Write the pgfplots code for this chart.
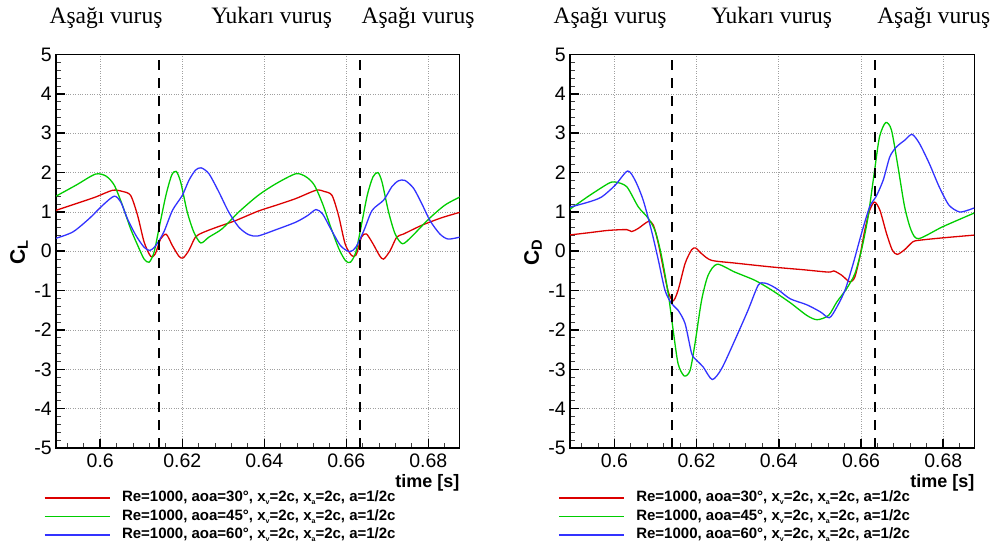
\documentclass[border=0pt]{standalone}
\usepackage{fontspec}
\setmainfont{Liberation Sans}
\newfontfamily\serifT{Liberation Serif}
\usepackage{pgfplots}
\pgfplotsset{compat=1.18}
\definecolor{cred}{RGB}{220,0,0}
\definecolor{cgreen}{RGB}{0,205,0}
\definecolor{cblue}{RGB}{50,50,255}
\newcommand\sub[1]{\raisebox{-3pt}{\fontsize{7}{7}\selectfont #1}}
\pgfplotsset{
 curve/.style={line width=1.3pt, smooth, tension=0.45},
 vdash/.style={black, line width=2.1pt, dash pattern=on 10pt off 8pt, forget plot},
 myax/.style={
  scale only axis, height=393.5pt,
  xmin=0.5892, xmax=0.6876, ymin=-5, ymax=5,
  xtick={0.6,0.62,0.64,0.66,0.68}, xticklabels={0.6,0.62,0.64,0.66,0.68},
  minor xtick={0.592,0.596,0.604,0.608,0.612,0.616,0.624,0.628,0.632,0.636,0.644,0.648,0.652,0.656,0.664,0.668,0.672,0.676,0.684},
  ytick={-5,-4,-3,-2,-1,0,1,2,3,4,5}, yticklabels={-5,-4,-3,-2,-1,0,1,2,3,4,5},
  minor y tick num=4,
  tick pos=left, tick align=inside,
  major tick length=9pt, minor tick length=5pt,
  every major tick/.append style={line width=1.6pt, black},
  every minor tick/.append style={line width=0.9pt, black!75},
  axis line style={line width=1.8pt},
  grid=major, major grid style={dotted, gray!75, line width=0.7pt},
  tick label style={font=\fontsize{19.5}{19.5}\selectfont},
  xticklabel style={inner sep=0pt, anchor=north, yshift=-6pt},
  yticklabel style={inner sep=0pt, anchor=east, xshift=-4pt},
  legend cell align=left,
  legend image code/.code={\draw[##1] (0pt,0pt) -- (65pt,0pt);},
  legend style={draw=none, fill=none, inner sep=0pt, outer sep=0pt,
    font=\bfseries\fontsize{15}{15}\selectfont, row sep=4pt,
    nodes={inner sep=0pt, text height=11pt, text depth=3.5pt},
    /tikz/every odd column/.append style={column sep=11.7pt}},
 }
}
\begin{document}
\begin{tikzpicture}
\useasboundingbox (0,0) rectangle (995pt,547pt);
% ---------------- left: C_L
\begin{axis}[myax, width=403.5pt, at={(56pt,99pt)}, anchor=south west,
  legend style={at={(-0.0297,-0.1085)}, anchor=north west}]
\addplot[curve, cred] coordinates {(0.5892,1.04)(0.5941,1.21)(0.5989,1.38)(0.6030,1.55)(0.6054,1.52)(0.6074,1.42)(0.6091,0.91)(0.6107,0.23)(0.6123,-0.13)(0.6134,-0.07)(0.6147,0.31)(0.6161,0.43)(0.6176,0.14)(0.6192,-0.13)(0.6202,-0.17)(0.6216,0.02)(0.6232,0.36)(0.6249,0.47)(0.6281,0.60)(0.6330,0.78)(0.6385,1.02)(0.6429,1.17)(0.6477,1.34)(0.6526,1.55)(0.6546,1.52)(0.6565,1.42)(0.6581,0.91)(0.6597,0.19)(0.6613,-0.11)(0.6624,-0.09)(0.6637,0.36)(0.6649,0.44)(0.6665,0.19)(0.6681,-0.11)(0.6691,-0.20)(0.6707,0.02)(0.6723,0.36)(0.6740,0.44)(0.6784,0.66)(0.6832,0.85)(0.6877,0.99)};
\addlegendentry{Re=1000, aoa=30°, x\sub{v}=2c, x\sub{a}=2c, a=1/2c}
\addplot[curve, cgreen] coordinates {(0.5892,1.40)(0.5941,1.68)(0.5988,1.96)(0.6014,1.91)(0.6034,1.68)(0.6054,1.17)(0.6074,0.57)(0.6095,0.06)(0.6107,-0.20)(0.6119,-0.28)(0.6131,-0.03)(0.6143,0.57)(0.6160,1.42)(0.6174,1.93)(0.6185,2.03)(0.6196,1.76)(0.6212,1.00)(0.6228,0.49)(0.6245,0.21)(0.6265,0.36)(0.6297,0.57)(0.6338,1.00)(0.6385,1.42)(0.6429,1.72)(0.6477,1.97)(0.6502,1.89)(0.6522,1.68)(0.6542,1.21)(0.6562,0.61)(0.6582,0.06)(0.6598,-0.24)(0.6610,-0.28)(0.6623,-0.03)(0.6635,0.57)(0.6651,1.42)(0.6665,1.89)(0.6677,2.00)(0.6687,1.76)(0.6703,1.00)(0.6719,0.44)(0.6737,0.19)(0.6760,0.38)(0.6800,0.81)(0.6840,1.17)(0.6877,1.38)};
\addlegendentry{Re=1000, aoa=45°, x\sub{v}=2c, x\sub{a}=2c, a=1/2c}
\addplot[curve, cblue] coordinates {(0.5892,0.33)(0.5933,0.49)(0.5973,0.83)(0.6006,1.17)(0.6034,1.40)(0.6050,1.25)(0.6066,0.83)(0.6087,0.40)(0.6107,0.10)(0.6121,0.02)(0.6135,0.14)(0.6155,0.49)(0.6176,1.04)(0.6200,1.42)(0.6216,1.80)(0.6232,2.06)(0.6246,2.12)(0.6265,1.97)(0.6289,1.51)(0.6313,1.00)(0.6338,0.61)(0.6362,0.42)(0.6385,0.39)(0.6429,0.55)(0.6477,0.74)(0.6506,0.91)(0.6526,1.06)(0.6542,0.95)(0.6562,0.57)(0.6586,0.14)(0.6608,-0.01)(0.6623,0.10)(0.6643,0.53)(0.6663,1.04)(0.6691,1.30)(0.6711,1.64)(0.6727,1.79)(0.6743,1.80)(0.6764,1.60)(0.6784,1.21)(0.6804,0.78)(0.6828,0.44)(0.6848,0.31)(0.6877,0.36)};
\addlegendentry{Re=1000, aoa=60°, x\sub{v}=2c, x\sub{a}=2c, a=1/2c}
\addplot[vdash] coordinates {(0.6143,-5)(0.6143,5)};
\addplot[vdash] coordinates {(0.6634,-5)(0.6634,5)};
\end{axis}
% ---------------- right: C_D
\begin{axis}[myax, width=404.5pt, at={(570pt,99pt)}, anchor=south west,
  legend style={at={(-0.0289,-0.1085)}, anchor=north west}]
\addplot[curve, cred] coordinates {(0.5888,0.41)(0.5937,0.47)(0.5985,0.53)(0.6030,0.55)(0.6042,0.50)(0.6058,0.58)(0.6083,0.76)(0.6095,0.66)(0.6107,0.19)(0.6119,-0.44)(0.6131,-1.03)(0.6143,-1.26)(0.6155,-0.99)(0.6172,-0.31)(0.6188,0.04)(0.6198,0.08)(0.6212,-0.06)(0.6236,-0.23)(0.6293,-0.30)(0.6383,-0.40)(0.6460,-0.47)(0.6521,-0.53)(0.6534,-0.50)(0.6553,-0.61)(0.6573,-0.78)(0.6585,-0.65)(0.6597,-0.14)(0.6609,0.53)(0.6621,1.04)(0.6633,1.25)(0.6646,1.04)(0.6662,0.45)(0.6676,0.03)(0.6688,-0.08)(0.6706,0.04)(0.6726,0.24)(0.6742,0.28)(0.6798,0.34)(0.6875,0.41)};
\addlegendentry{Re=1000, aoa=30°, x\sub{v}=2c, x\sub{a}=2c, a=1/2c}
\addplot[curve, cgreen] coordinates {(0.5888,1.04)(0.5937,1.40)(0.5985,1.72)(0.6002,1.76)(0.6030,1.64)(0.6058,1.13)(0.6083,0.83)(0.6100,0.49)(0.6115,-0.14)(0.6131,-1.08)(0.6143,-2.01)(0.6155,-2.86)(0.6170,-3.17)(0.6184,-3.03)(0.6196,-2.35)(0.6212,-1.25)(0.6228,-0.61)(0.6250,-0.33)(0.6293,-0.53)(0.6342,-0.74)(0.6383,-0.99)(0.6428,-1.31)(0.6468,-1.63)(0.6493,-1.74)(0.6521,-1.63)(0.6541,-1.29)(0.6565,-0.95)(0.6585,-0.57)(0.6601,0.03)(0.6617,0.87)(0.6633,2.06)(0.6645,2.91)(0.6660,3.27)(0.6674,3.08)(0.6690,2.14)(0.6706,1.13)(0.6722,0.53)(0.6740,0.32)(0.6798,0.62)(0.6875,0.97)};
\addlegendentry{Re=1000, aoa=45°, x\sub{v}=2c, x\sub{a}=2c, a=1/2c}
\addplot[curve, cblue] coordinates {(0.5888,1.11)(0.5937,1.25)(0.5969,1.38)(0.6002,1.68)(0.6032,2.04)(0.6050,1.81)(0.6070,1.30)(0.6091,0.49)(0.6107,-0.23)(0.6123,-0.99)(0.6139,-1.33)(0.6155,-1.50)(0.6172,-1.84)(0.6188,-2.60)(0.6200,-2.77)(0.6216,-2.94)(0.6238,-3.26)(0.6261,-2.98)(0.6293,-2.26)(0.6325,-1.50)(0.6350,-0.86)(0.6366,-0.81)(0.6383,-0.88)(0.6400,-0.99)(0.6428,-1.21)(0.6468,-1.36)(0.6501,-1.54)(0.6523,-1.69)(0.6541,-1.42)(0.6561,-0.99)(0.6581,-0.31)(0.6601,0.45)(0.6621,1.13)(0.6637,1.40)(0.6654,1.81)(0.6670,2.40)(0.6686,2.65)(0.6706,2.82)(0.6724,2.97)(0.6742,2.74)(0.6766,2.23)(0.6790,1.64)(0.6814,1.17)(0.6839,1.00)(0.6859,1.04)(0.6875,1.10)};
\addlegendentry{Re=1000, aoa=60°, x\sub{v}=2c, x\sub{a}=2c, a=1/2c}
\addplot[vdash] coordinates {(0.6141,-5)(0.6141,5)};
\addplot[vdash] coordinates {(0.6634,-5)(0.6634,5)};
\end{axis}
% ---------------- texts
\begin{scope}[every node/.style={anchor=base, inner sep=0pt, font=\serifT\fontsize{23.5}{23.5}\selectfont}]
\node at (106pt,523.7pt) {Aşağı vuruş};
\node at (271.7pt,523.7pt) {Yukarı vuruş};
\node at (418pt,523.7pt) {Aşağı vuruş};
\node at (610pt,523.7pt) {Aşağı vuruş};
\node at (771.7pt,523.7pt) {Yukarı vuruş};
\node at (933.7pt,523.7pt) {Aşağı vuruş};
\end{scope}
\node[anchor=base east, inner sep=0pt, font=\bfseries\fontsize{18}{18}\selectfont] at (459.5pt,59.7pt) {time [s]};
\node[anchor=base east, inner sep=0pt, font=\bfseries\fontsize{18}{18}\selectfont] at (974.5pt,59.7pt) {time [s]};
\node[rotate=90, inner sep=0pt, font=\bfseries\fontsize{21}{21}\selectfont] at (19pt,294.5pt) {C\textsubscript{L}};
\node[rotate=90, inner sep=0pt, font=\bfseries\fontsize{21}{21}\selectfont] at (533pt,294.5pt) {C\textsubscript{D}};
\end{tikzpicture}
\end{document}
